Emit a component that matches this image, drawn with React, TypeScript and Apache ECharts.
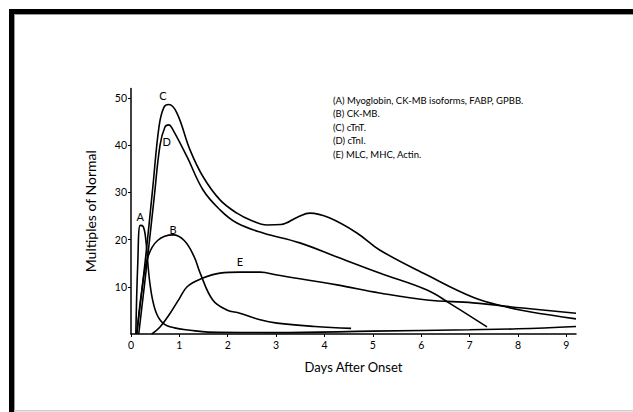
import React, { useEffect, useRef } from "react";
import * as echarts from "echarts";

const xTicks = [0, 1, 2, 3, 4, 5, 6, 7, 8, 9];
const yTicks = [10, 20, 30, 40, 50];

const seriesA: [number, number][] = [[0.1,0],[0.14,15],[0.19,23],[0.25,22.8],[0.3,20.5],[0.39,10.8],[0.5,5.1],[0.66,2.3],[0.9,1.3],[1.22,0.8],[1.6,0.4],[3,0.3],[5,0.6],[7,0.9],[8,1.1],[9.2,1.6]];
const seriesB: [number, number][] = [[0.12,0],[0.22,9],[0.35,16.3],[0.55,19.8],[0.87,21],[1.1,19.8],[1.3,16.5],[1.43,12.9],[1.69,7.2],[1.98,5.1],[2.25,4.4],[2.67,3.0],[3.02,2.3],[3.8,1.6],[4.55,1.2]];
const seriesC: [number, number][] = [[0.12,0],[0.3,16],[0.45,31],[0.58,44],[0.68,48],[0.78,48.6],[0.95,46.8],[1.22,39],[1.49,33.3],[1.84,28.4],[2.19,25.6],[2.5,24],[2.81,23.1],[3.1,23.2],[3.45,24.8],[3.7,25.6],[4.1,24.6],[4.67,21.4],[5.14,17.8],[6.12,12.5],[7.07,7.8],[7.77,5.7],[8.24,4.7],[9.2,3.2]];
const seriesD: [number, number][] = [[0.16,0],[0.33,15],[0.48,29],[0.6,40],[0.7,43.8],[0.78,44.3],[0.87,43.2],[1.16,37.5],[1.49,30.5],[1.84,26.3],[2.19,23.5],[2.73,21.4],[3.49,19.3],[4.26,16.3],[5.14,12.9],[6.12,9.3],[6.59,6.5],[7.36,1.5]];
const seriesE: [number, number][] = [[0.43,0],[0.6,1.5],[0.81,4.4],[1.0,7.5],[1.16,10],[1.43,11.6],[1.84,12.9],[2.25,13.1],[2.67,13.1],[3.02,12.5],[4.26,10.4],[5.14,8.7],[6.12,7.2],[7.07,6.6],[8.1,5.5],[9.2,4.4]];

const curveNames = ["A", "B", "C", "D", "E"];
const curveData = [seriesA, seriesB, seriesC, seriesD, seriesE];
const curveLabelPos: [number, number][] = [[0.19, 24.8], [0.87, 22.2], [0.66, 50.6], [0.74, 40.7], [2.25, 15.3]];

const legendLines = [
  "(A) Myoglobin, CK-MB isoforms, FABP, GPBB.",
  "(B) CK-MB.",
  "(C) cTnT.",
  "(D) cTnI.",
  "(E) MLC, MHC, Actin.",
];

const FONT = "Lato, 'DejaVu Sans', sans-serif";

export default function App() {
  const ref = useRef<HTMLDivElement>(null);
  useEffect(() => {
    if (!ref.current) return;
    const chart = echarts.init(ref.current, null, { renderer: "svg" });
    const lineSeries = curveData.map((d, i) => ({
      type: "line",
      name: curveNames[i],
      data: d,
      smooth: 0.4,
      symbol: "none",
      lineStyle: { color: "#000", width: 1.6 },
      z: 3,
    }));
    chart.setOption({
      animation: false,
      backgroundColor: "#fff",
      color: ["#000"],
      grid: { left: 131, right: 57, top: 88.5, bottom: 78 },
      xAxis: {
        type: "value",
        min: 0,
        max: 9.2,
        interval: 1,
        name: "Days After Onset",
        nameLocation: "middle",
        nameGap: 26,
        nameTextStyle: { fontFamily: FONT, fontSize: 13, color: "#000" },
        axisLine: { lineStyle: { color: "#000", width: 1.5 } },
        axisTick: { show: true, length: 3, customValues: xTicks, lineStyle: { color: "#000" } },
        axisLabel: { customValues: xTicks, fontFamily: FONT, fontSize: 10.5, color: "#000", margin: 5 },
        splitLine: { show: false },
      },
      yAxis: {
        type: "value",
        min: 0,
        max: 52,
        interval: 10,
        name: "Multiples of Normal",
        nameLocation: "middle",
        nameGap: 34,
        nameTextStyle: { fontFamily: FONT, fontSize: 14, color: "#000" },
        axisLine: { lineStyle: { color: "#000", width: 1.5 } },
        axisTick: { show: true, length: 3, customValues: yTicks, lineStyle: { color: "#000" } },
        axisLabel: { customValues: yTicks, fontFamily: FONT, fontSize: 10.5, color: "#000", margin: 4 },
        splitLine: { show: false },
      },
      series: lineSeries,
    });
    const curveLabels = curveLabelPos.map((p, i) => {
      const px = chart.convertToPixel({ gridIndex: 0 }, p) as number[];
      return {
        type: "text",
        x: px[0],
        y: px[1],
        z: 10,
        style: {
          text: curveNames[i],
          fill: "#000",
          font: `11px ${FONT}`,
          textAlign: "center",
          textVerticalAlign: "middle",
        },
      };
    });
    chart.setOption({
      graphic: [
        { type: "rect", shape: { x: 9, y: 9, width: 640, height: 5 }, style: { fill: "#000" } },
        { type: "rect", shape: { x: 9, y: 9, width: 5, height: 410 }, style: { fill: "#000" } },
        { type: "rect", shape: { x: 14, y: 14, width: 630, height: 1 }, style: { fill: "#999" } },
        { type: "rect", shape: { x: 14, y: 14, width: 1, height: 400 }, style: { fill: "#999" } },
        { type: "rect", shape: { x: 14, y: 410, width: 630, height: 1.5 }, style: { fill: "#ccc" } },
        ...legendLines.map((t, i) => ({
          type: "text",
          x: 333,
          y: 100 + i * 13.6,
          style: {
            text: t,
            fill: "#000",
            font: `9.5px ${FONT}`,
            textVerticalAlign: "middle",
          },
        })),
        ...curveLabels,
      ],
    });
    return () => chart.dispose();
  }, []);
  return (
    <div
      ref={ref}
      style={{ position: "fixed", left: 0, top: 0, width: 633, height: 412 }}
    />
  );
}
